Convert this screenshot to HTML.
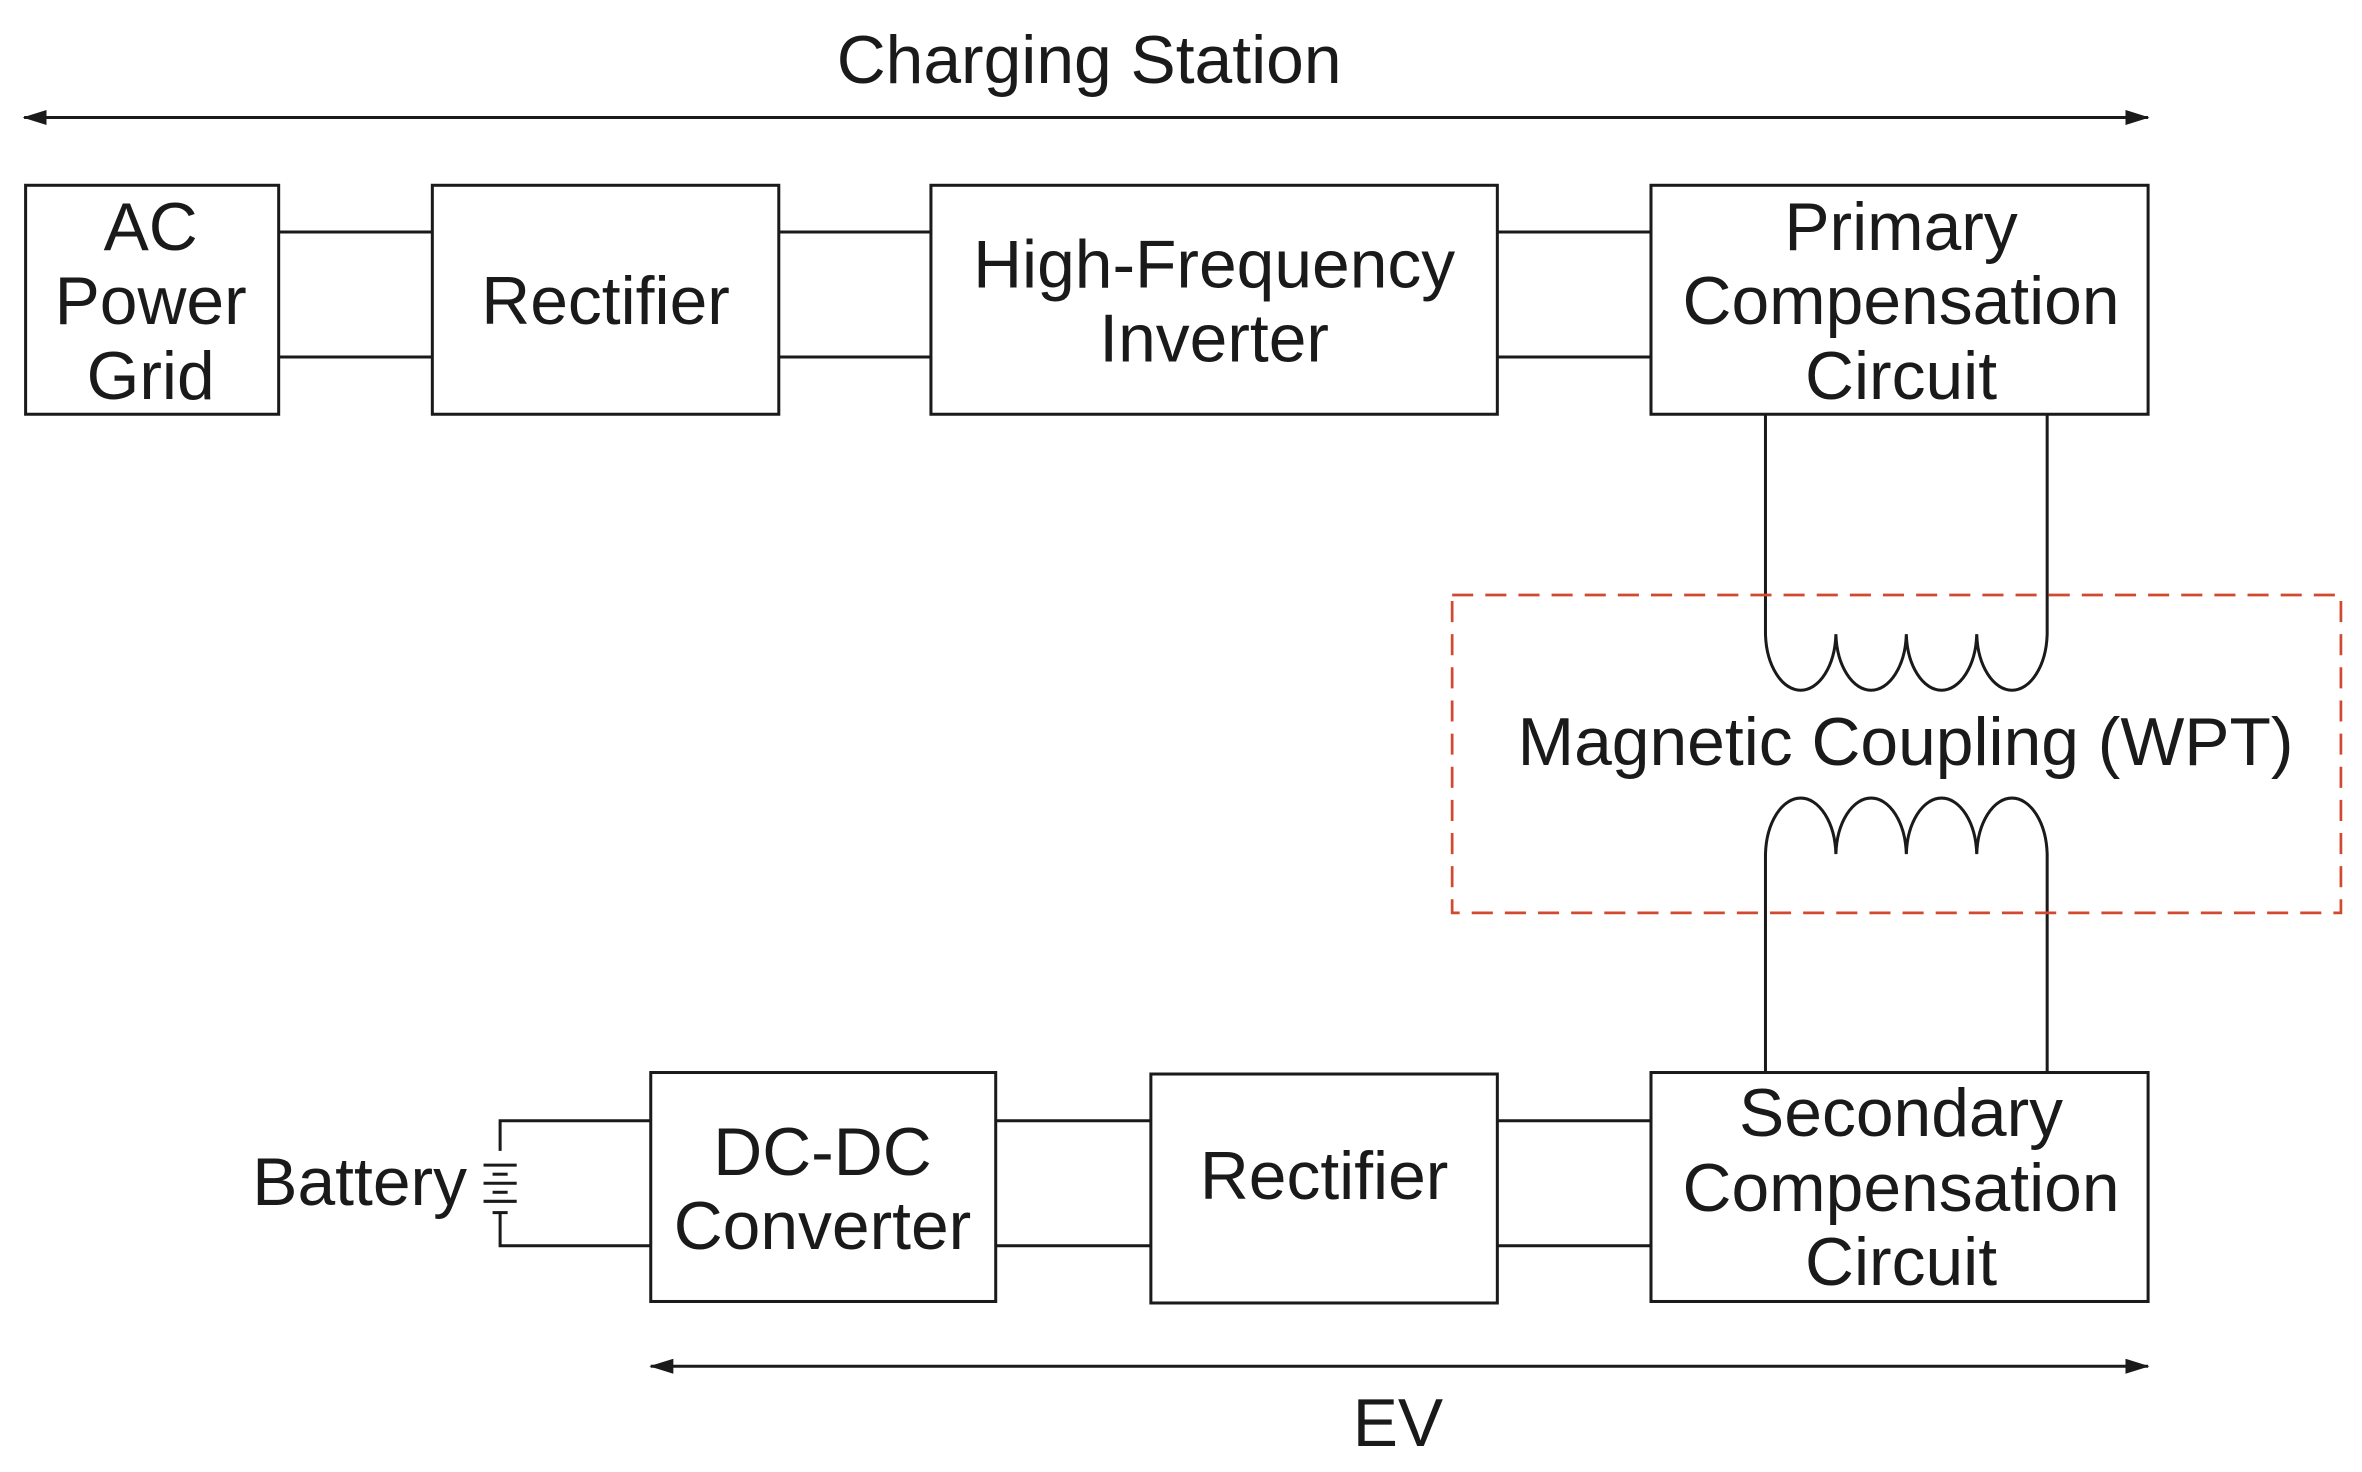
<!DOCTYPE html>
<html><head><meta charset="utf-8"><style>html,body{margin:0;padding:0;background:#fff}svg{display:block}</style></head>
<body>
<svg width="2362" height="1472" viewBox="0 0 1568 977.2" preserveAspectRatio="none" xmlns="http://www.w3.org/2000/svg">
<defs>
<marker id="ah" markerWidth="16" markerHeight="10" refX="15" refY="5" orient="auto-start-reverse" markerUnits="userSpaceOnUse">
<path d="M0,0 L16,5 L0,10 Z" fill="#1a1a1a"/>
</marker>
</defs>
<g stroke="#1a1a1a" stroke-width="2" fill="none">
<line x1="16" y1="78" x2="1426" y2="78" marker-start="url(#ah)" marker-end="url(#ah)"/>
<line x1="432" y1="907" x2="1426" y2="907" marker-start="url(#ah)" marker-end="url(#ah)"/>
<rect x="17" y="123" width="168" height="152"/>
<rect x="287" y="123" width="230" height="152"/>
<rect x="618" y="123" width="376" height="152"/>
<rect x="1096" y="123" width="330" height="152"/>
<line x1="185" y1="154" x2="287" y2="154"/><line x1="185" y1="237" x2="287" y2="237"/>
<line x1="517" y1="154" x2="618" y2="154"/><line x1="517" y1="237" x2="618" y2="237"/>
<line x1="994" y1="154" x2="1096" y2="154"/><line x1="994" y1="237" x2="1096" y2="237"/>
<rect x="432" y="712" width="229" height="152"/>
<rect x="764" y="713" width="230" height="152"/>
<rect x="1096" y="712" width="330" height="152"/>
<line x1="661" y1="744" x2="764" y2="744"/><line x1="661" y1="827" x2="764" y2="827"/>
<line x1="994" y1="744" x2="1096" y2="744"/><line x1="994" y1="827" x2="1096" y2="827"/>
<polyline points="432,744 332,744 332,764"/>
<polyline points="432,827 332,827 332,805"/>
<line x1="321" y1="773.5" x2="343" y2="773.5"/>
<line x1="327" y1="779.5" x2="337" y2="779.5"/>
<line x1="321" y1="785.5" x2="343" y2="785.5"/>
<line x1="327" y1="791.5" x2="337" y2="791.5"/>
<line x1="321" y1="797.5" x2="343" y2="797.5"/>
<line x1="327" y1="805" x2="337" y2="805"/>
<path d="M1172,275 L1172,421 A23.4,39 0 0 0 1218.75,421 A23.4,39 0 0 0 1265.5,421 A23.4,39 0 0 0 1312.25,421 A23.4,39 0 0 0 1359,421 L1359,275"/>
<path d="M1172,712 L1172,567 A23.4,39 0 0 1 1218.75,567 A23.4,39 0 0 1 1265.5,567 A23.4,39 0 0 1 1312.25,567 A23.4,39 0 0 1 1359,567 L1359,712"/>
</g>
<rect x="964" y="395" width="590" height="211" fill="none" stroke="#d04a30" stroke-width="1.8" stroke-dasharray="14,8"/>
<g font-family="Liberation Sans, sans-serif" font-size="45" fill="#1a1a1a" text-anchor="middle">
<text x="723" y="55">Charging Station</text>
<text x="928" y="960">EV</text>
<text x="100" y="166">AC</text><text x="100" y="215">Power</text><text x="100" y="265">Grid</text>
<text x="402" y="215">Rectifier</text>
<text x="806" y="191">High-Frequency</text><text x="806" y="240">Inverter</text>
<text x="1262" y="166">Primary</text><text x="1262" y="215">Compensation</text><text x="1262" y="265">Circuit</text>
<text x="1265" y="508">Magnetic Coupling (WPT)</text>
<text x="546" y="780">DC-DC</text><text x="546" y="829">Converter</text>
<text x="879" y="796">Rectifier</text>
<text x="1262" y="754">Secondary</text><text x="1262" y="804">Compensation</text><text x="1262" y="853">Circuit</text>
<text x="310" y="800" text-anchor="end">Battery</text>
</g>
</svg>
</body></html>
